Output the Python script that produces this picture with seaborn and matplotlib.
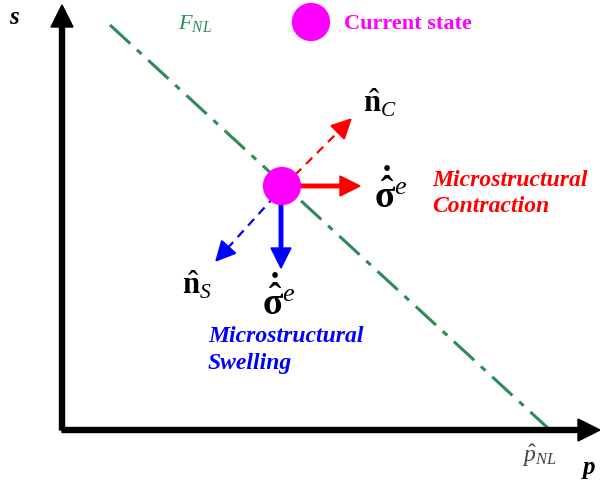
import matplotlib
matplotlib.use("Agg")
import matplotlib.pyplot as plt
import seaborn as sns
import pandas as pd

sns.set_theme(style="white")
plt.rcParams["mathtext.fontset"] = "custom"
plt.rcParams["mathtext.rm"] = "Liberation Serif"
plt.rcParams["mathtext.it"] = "Liberation Serif:italic"
plt.rcParams["mathtext.bf"] = "Liberation Serif:bold"
plt.rcParams["mathtext.bfit"] = "Liberation Serif:bold:italic"
plt.rcParams["font.family"] = ["Liberation Serif", "DejaVu Serif"]
plt.rcParams["text.color"] = "black"

# ---- data (p, s in diagram units; origin at axes corner) ----
fnl_p = [48, 488]          # failure line end points
fnl_s = [405, 0]
state_p = [220]            # current state
state_s = [244]
legend_p = [249]
legend_s = [408]
p_axis_end = 538
s_axis_end = 425

# arrows: (start_p, start_s, end_p, end_s)
contr_solid = (234, 244, 298, 244)
contr_dash = (233, 255, 290, 312)
swell_solid = (219, 230, 219, 162)
swell_dash = (213, 234, 153, 168)

fig = plt.figure(figsize=(6.0, 4.86), dpi=100)
ax = fig.add_axes([0, 0, 1, 1])
ax.set_xlim(-62, 538)
ax.set_ylim(-56, 430)
ax.set_aspect("equal")
ax.axis("off")

# main axes
ax.arrow(0, 0, p_axis_end, 0, width=5, head_width=22, head_length=22,
         length_includes_head=True, color="black", zorder=3)
ax.arrow(0, 0, 0, s_axis_end, width=5, head_width=22, head_length=22,
         length_includes_head=True, color="black", zorder=3)

# failure line
df = pd.DataFrame({"p": fnl_p, "s": fnl_s})
sns.lineplot(data=df, x="p", y="s", ax=ax, color="#2e8b57", lw=2.2,
             linestyle=(0, (9, 3, 2, 3)), zorder=2)

def solid_arrow(a, color):
    ax.arrow(a[0], a[1], a[2] - a[0], a[3] - a[1], width=3.5, head_width=20,
             head_length=20, length_includes_head=True, color=color, zorder=4)

def dashed_arrow(a, color):
    x0, y0, x1, y1 = a
    dx, dy = x1 - x0, y1 - y0
    L = (dx ** 2 + dy ** 2) ** 0.5
    ux, uy = dx / L, dy / L
    ax.plot([x0, x1 - ux * 10], [y0, y1 - uy * 10], color=color, lw=1.6,
            linestyle=(0, (4, 3)), zorder=4)
    ax.annotate("", xy=(x1, y1), xytext=(x1 - ux * 16, y1 - uy * 16),
                arrowprops=dict(arrowstyle="-|>,head_length=0.9,head_width=0.45",
                                color=color, lw=1.6, shrinkA=0, shrinkB=0,
                                mutation_scale=14), zorder=4)

solid_arrow(contr_solid, "#ff0000")
dashed_arrow(contr_dash, "#ff0000")
solid_arrow(swell_solid, "#0000ff")
dashed_arrow(swell_dash, "#0000ff")

# points
sns.scatterplot(x=state_p, y=state_s, ax=ax, s=760, color="#ff00ff",
                edgecolor="none", zorder=5)
sns.scatterplot(x=legend_p, y=legend_s, ax=ax, s=760, color="#ff00ff",
                edgecolor="none", zorder=5)

# texts
ax.text(282, 406, "Current state", color="#ff00ff", fontsize=16,
        fontweight="bold", va="center", ha="left")
ax.text(116, 406, r"$F_{NL}$", color="#2e8b57", fontsize=16,
        va="center", ha="left")
ax.text(-53, 412, r"$\mathbfit{s}$", fontsize=18, color="black",
        va="center", ha="left")
ax.text(519, -40, r"$\mathbfit{p}$", fontsize=18, color="black",
        va="center", ha="left")
ax.text(460, -26, r"$\hat{p}_{NL}$", fontsize=17, color="#444444",
        va="center", ha="left")

sigma = r"$\mathbf{\dot{\hat{\sigma}}}^{e}$"
ax.text(301, 327, r"$\hat{\mathbf{n}}_{C}$", fontsize=22, color="black",
        va="center", ha="left")
ax.text(120, 145, r"$\hat{\mathbf{n}}_{S}$", fontsize=22, color="black",
        va="center", ha="left")
ax.text(312, 237, sigma, fontsize=27, color="black", va="center", ha="left")
ax.text(200, 130, sigma, fontsize=27, color="black", va="center", ha="left")

ax.text(370, 249, "Microstructural", color="#ff0000", fontsize=17,
        fontweight="bold", fontstyle="italic", va="center", ha="left")
ax.text(370, 223, "Contraction", color="#ff0000", fontsize=17,
        fontweight="bold", fontstyle="italic", va="center", ha="left")
ax.text(146, 93, "Microstructural", color="#0000ff", fontsize=17,
        fontweight="bold", fontstyle="italic", va="center", ha="left")
ax.text(146, 66, "Swelling", color="#0000ff", fontsize=17,
        fontweight="bold", fontstyle="italic", va="center", ha="left")

fig.savefig("out.png", dpi=100)
